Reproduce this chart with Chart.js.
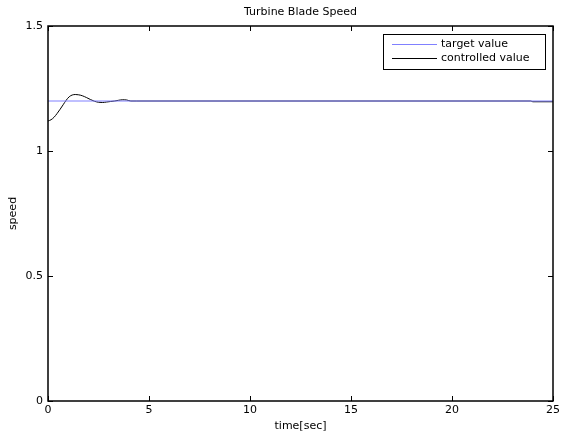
<!DOCTYPE html>
<html><head><meta charset="utf-8">
<script src="https://cdn.jsdelivr.net/npm/chart.js@4"></script>
<style>html,body{margin:0;padding:0;background:#fff}#wrap{width:563px;height:437px}</style>
</head><body><div id="wrap"><canvas id="c" width="563" height="437"></canvas></div>
<script>
const chartTitle = "Turbine Blade Speed";
const xTitle = "time[sec]";
const yTitle = "speed";
const seriesNames = ["target value", "controlled value"];
const xTicks = [0, 5, 10, 15, 20, 25];
const yTicks = [0, 0.5, 1, 1.5];
const targetT = [0, 25];
const targetV = [1.2, 1.2];
const ctrlT = [0, 0.15, 0.3, 0.45, 0.6, 0.75, 0.9, 1.05, 1.2, 1.35, 1.5, 1.7, 1.9, 2.1, 2.3, 2.5, 2.7, 2.9, 3.1, 3.3, 3.5, 3.7, 3.9, 4.1, 4.4, 5, 10, 15, 20, 23.9, 24.0, 25];
const ctrlV = [1.12, 1.125, 1.135, 1.15, 1.167, 1.185, 1.203, 1.217, 1.224, 1.226, 1.225, 1.221, 1.214, 1.206, 1.199, 1.195, 1.194, 1.196, 1.198, 1.2, 1.203, 1.205, 1.204, 1.2, 1.2, 1.2, 1.2, 1.2, 1.2, 1.2, 1.197, 1.197];

const FONT = "DejaVu Sans, Arial, sans-serif";

const framePlugin = {
  id: 'frame',
  afterDatasetsDraw(chart) {
    const {ctx, chartArea: a, scales: {x, y}} = chart;
    ctx.save();
    ctx.strokeStyle = '#000';
    ctx.lineWidth = 1;
    ctx.beginPath();
    for (const t of xTicks) {
      const px = Math.round(x.getPixelForValue(t)) + 0.5;
      ctx.moveTo(px, a.bottom); ctx.lineTo(px, a.bottom - 5);
      ctx.moveTo(px, a.top); ctx.lineTo(px, a.top + 5);
    }
    for (const t of yTicks) {
      const py = Math.round(y.getPixelForValue(t)) + 0.5;
      ctx.moveTo(a.left, py); ctx.lineTo(a.left + 5, py);
      ctx.moveTo(a.right, py); ctx.lineTo(a.right - 5, py);
    }
    ctx.stroke();
    ctx.lineWidth = 1.5;
    ctx.strokeRect(a.left, a.top, a.right - a.left, a.bottom - a.top);
    // title
    ctx.fillStyle = '#000';
    ctx.font = '11px ' + FONT;
    ctx.textAlign = 'center';
    ctx.textBaseline = 'middle';
    ctx.fillText(chartTitle, (a.left + a.right) / 2, 12);
    // legend
    const lx = 383, ly = 34, lw = 162, lh = 35;
    ctx.fillStyle = '#fff';
    ctx.fillRect(lx, ly, lw, lh);
    ctx.lineWidth = 1;
    ctx.strokeStyle = '#000';
    ctx.strokeRect(lx + 0.5, ly + 0.5, lw, lh);
    const cols = ['#8080ff', '#000'];
    const rows = [44, 58];
    for (let i = 0; i < 2; i++) {
      ctx.strokeStyle = cols[i];
      ctx.beginPath();
      ctx.moveTo(392, rows[i] + 0.5); ctx.lineTo(437, rows[i] + 0.5);
      ctx.stroke();
      ctx.fillStyle = '#000';
      ctx.textAlign = 'left';
      ctx.fillText(seriesNames[i], 441, rows[i]);
    }
    ctx.restore();
  }
};

new Chart(document.getElementById('c'), {
  type: 'scatter',
  data: {
    datasets: [
      {label: seriesNames[0], data: targetT.map((t, i) => ({x: t, y: targetV[i]})), showLine: true, borderColor: '#8080ff', borderWidth: 1, pointRadius: 0},
      {label: seriesNames[1], data: ctrlT.map((t, i) => ({x: t, y: ctrlV[i]})), showLine: true, borderColor: '#000', borderWidth: 1, pointRadius: 0, tension: 0.3, cubicInterpolationMode: 'monotone'}
    ]
  },
  options: {
    responsive: false,
    animation: false,
    devicePixelRatio: 1,
    layout: {padding: {top: 26, right: 9, left: 7, bottom: 4}},
    plugins: {legend: {display: false}, tooltip: {enabled: false}},
    scales: {
      x: {
        type: 'linear', min: 0, max: 25,
        afterBuildTicks(s) { s.ticks = xTicks.map(v => ({value: v})); },
        afterFit(s) { s.height = 32; },
        grid: {display: false, drawTicks: false},
        border: {display: false},
        ticks: {color: '#000', font: {size: 11, family: FONT}, padding: 3, maxRotation: 0},
        title: {display: true, text: xTitle, color: '#000', font: {size: 11, family: FONT}, padding: {top: 4, bottom: 0}}
      },
      y: {
        min: 0, max: 1.5,
        afterBuildTicks(s) { s.ticks = yTicks.map(v => ({value: v})); },
        afterFit(s) { s.width = 41; },
        grid: {display: false, drawTicks: false},
        border: {display: false},
        ticks: {color: '#000', font: {size: 11, family: FONT}, padding: 5, callback: v => String(v)},
        title: {display: true, text: yTitle, color: '#000', font: {size: 11, family: FONT}, padding: {top: 0, bottom: 0}}
      }
    }
  },
  plugins: [framePlugin]
});
</script></body></html>
